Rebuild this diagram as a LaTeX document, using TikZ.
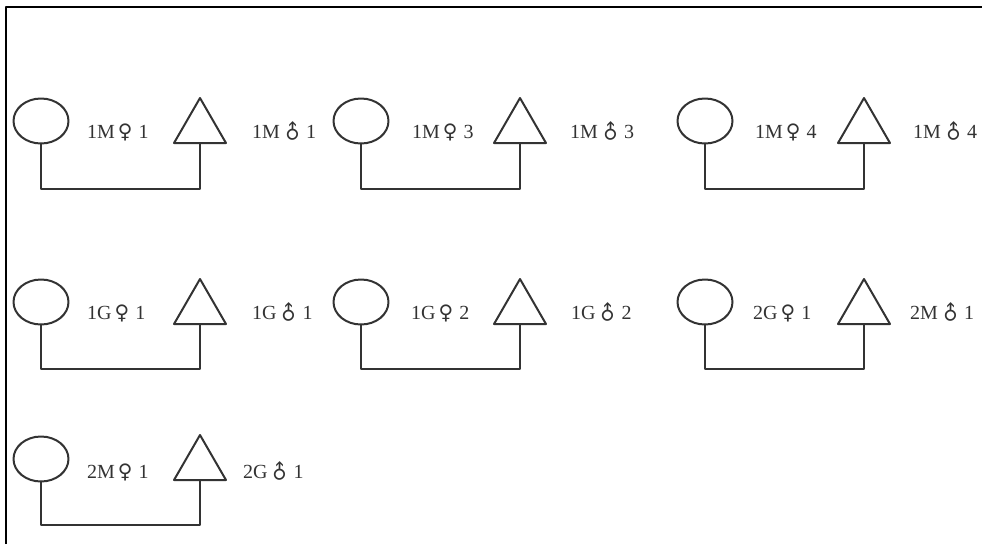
\documentclass[tikz,border=0pt]{standalone}
\usepackage{fontspec}
\setmainfont{Liberation Serif}
\newfontfamily\symfont{DejaVu Sans}
\newcommand{\fem}{\hspace{3pt}{\symfont ♀}\hspace{6pt}}
\newcommand{\mal}{\hspace{1pt}\raisebox{-1pt}{\rotatebox[origin=c]{45}{\symfont ♂}}\hspace{2pt}}
\usetikzlibrary{shapes.geometric}

\begin{document}
\begin{tikzpicture}[x=1pt,y=-1pt,line cap=round,line join=round,
  mother/.style={draw=black!80,ellipse,line width=2pt,minimum width=55pt,minimum height=45pt,inner sep=0pt,outer sep=0pt},
  father/.style={draw=black!80,regular polygon,regular polygon sides=3,line width=2pt,minimum size=60pt,inner sep=0pt,outer sep=0pt},
  tag/.style={anchor=base west,inner sep=0pt,text=black!80,font=\fontsize{20}{24}\selectfont},
  link/.style={draw=black!80,line width=2pt}]
\useasboundingbox (0,0) rectangle (982,544);
% frame
\coordinate (fl) at (6,544);
\coordinate (fc) at (6,7);
\coordinate (fr) at (982,7);
\draw[line width=2.5pt,line cap=butt] (fl) -- (fc) -- (fr);
% row 1
\node[mother] (m1) at (41,121) {};
\node[father] (f1) at (200,128) {};
\coordinate (b1) at (41,189);
\draw[link] (m1.south) -- (b1) -| (f1.south);
\node[tag] (mt1) at (87,138) {1M\fem1};
\node[tag] (ft1) at (252,138) {1M\mal1};
\node[mother] (m2) at (361,121) {};
\node[father] (f2) at (520,128) {};
\coordinate (b2) at (361,189);
\draw[link] (m2.south) -- (b2) -| (f2.south);
\node[tag] (mt2) at (412,138) {1M\fem3};
\node[tag] (ft2) at (570,138) {1M\mal3};
\node[mother] (m3) at (705,121) {};
\node[father] (f3) at (864,128) {};
\coordinate (b3) at (705,189);
\draw[link] (m3.south) -- (b3) -| (f3.south);
\node[tag] (mt3) at (755,138) {1M\fem4};
\node[tag] (ft3) at (913,138) {1M\mal4};
% row 2
\node[mother] (m4) at (41,302) {};
\node[father] (f4) at (200,309) {};
\coordinate (b4) at (41,369);
\draw[link] (m4.south) -- (b4) -| (f4.south);
\node[tag] (mt4) at (87,319) {1G\fem1};
\node[tag] (ft4) at (252,319) {1G\mal1};
\node[mother] (m5) at (361,302) {};
\node[father] (f5) at (520,309) {};
\coordinate (b5) at (361,369);
\draw[link] (m5.south) -- (b5) -| (f5.south);
\node[tag] (mt5) at (411,319) {1G\fem2};
\node[tag] (ft5) at (571,319) {1G\mal2};
\node[mother] (m6) at (705,302) {};
\node[father] (f6) at (864,309) {};
\coordinate (b6) at (705,369);
\draw[link] (m6.south) -- (b6) -| (f6.south);
\node[tag] (mt6) at (753,319) {2G\fem1};
\node[tag] (ft6) at (910,319) {2M\mal1};
% row 3
\node[mother] (m7) at (41,459) {};
\node[father] (f7) at (200,465) {};
\coordinate (b7) at (41,525);
\draw[link] (m7.south) -- (b7) -| (f7.south);
\node[tag] (mt7) at (87,478) {2M\fem1};
\node[tag] (ft7) at (243,478) {2G\mal1};
\end{tikzpicture}
\end{document}
